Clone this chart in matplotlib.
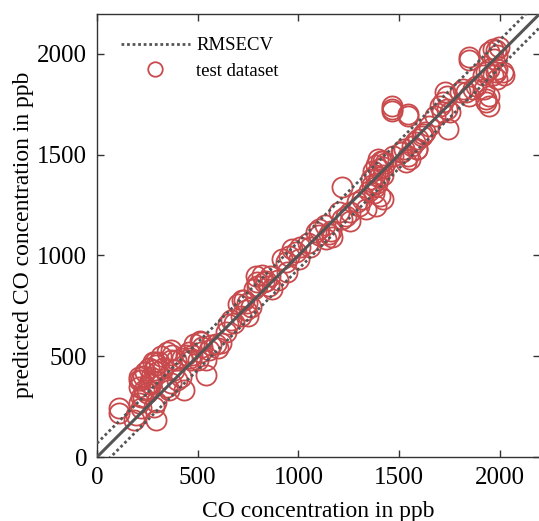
import matplotlib as mpl
import matplotlib.pyplot as plt
import numpy as np

mpl.rcParams["font.family"] = "serif"
mpl.rcParams["font.serif"] = ["Liberation Serif", "DejaVu Serif"]

# reference vs predicted CO concentration (ppb), test dataset
co_ref = [
    109, 109, 184, 194, 294, 209, 219, 219, 209, 219, 209, 234, 249, 259, 284, 294,
    269, 284, 294, 308, 348, 368, 368, 373, 368, 433, 398, 418, 423, 443, 468, 473,
    458, 517, 522, 517, 542, 557, 567, 510, 617, 667, 682, 716, 731, 746, 741, 766,
    796, 831, 230, 250, 270, 300, 330, 360, 240, 280, 380, 460, 500, 590, 640, 700,
    781, 796, 791, 821, 841, 856, 871, 920, 940, 955, 970, 990, 1005, 945, 900, 1010,
    1050, 1090, 1104, 1139, 1154, 1169, 1164, 1204, 1219, 1239, 1254, 1254, 1219,
    1289, 1303, 1318, 1338, 1388, 1403, 1360, 1370, 1380, 1385, 1390, 1400, 1410,
    1400, 1420, 1380, 1420, 1395, 1350, 1365, 1430, 1375, 1418, 1468, 1517, 1552,
    1587, 1463, 1463, 1463, 1542, 1542, 1741, 1418, 1512, 1527, 1542, 1562, 1577,
    1592, 1612, 1627, 1587, 1537, 1701, 1716, 1736, 1711, 1736, 1751, 1726, 1801,
    1816, 1831, 1846, 1866, 1881, 1846, 1846, 1915, 1930, 1945, 1965, 1980, 1985,
    1920, 1945, 1930, 1930, 1945, 1985, 1945, 1965, 1980, 1995, 1985, 1970, 2015,
    2020, 1650, 1680, 1620, 1100, 1130, 1060, 860, 750, 720, 650, 600, 540, 480,
    210, 230, 260, 290, 320, 350, 390,
]
co_pred = [
    244, 219, 184, 209, 184, 269, 244, 299, 398, 383, 348, 333, 318, 368, 249, 274,
    398, 433, 458, 473, 348, 368, 483, 507, 532, 333, 383, 398, 493, 507, 483, 507,
    522, 522, 547, 572, 408, 532, 557, 575, 567, 682, 667, 697, 781, 766, 731, 746,
    846, 866, 300, 330, 360, 420, 440, 330, 420, 470, 430, 490, 480, 560, 620, 760,
    831, 866, 896, 905, 871, 846, 831, 980, 965, 995, 1030, 1015, 980, 920, 880, 1040,
    1060, 1114, 1129, 1080, 1104, 1090, 1119, 1214, 1179, 1194, 1214, 1169, 1338,
    1264, 1244, 1279, 1229, 1244, 1294, 1380, 1420, 1400, 1450, 1360, 1430, 1470,
    1390, 1440, 1340, 1400, 1480, 1320, 1350, 1460, 1310, 1279, 1493, 1512, 1478,
    1527, 1741, 1726, 1716, 1691, 1701, 1627, 1468, 1512, 1527, 1493, 1542, 1562,
    1577, 1592, 1612, 1527, 1463, 1741, 1761, 1791, 1711, 1726, 1711, 1811, 1811,
    1826, 1811, 1791, 1826, 1841, 1985, 1970, 1895, 1910, 1925, 1895, 1910, 1925,
    1826, 1791, 1776, 1761, 1741, 1875, 2010, 2025, 2020, 2035, 1995, 1975, 1910,
    1895, 1640, 1690, 1600, 1100, 1150, 1040, 900, 700, 780, 660, 540, 480, 560,
    380, 400, 440, 470, 500, 520, 480,
]
rmsecv = 68
axis_max = 2200

line_grey = "#555555"
marker_red = "#c94a4c"

fig = plt.figure(figsize=(5.39, 5.21), dpi=100)
ax = fig.add_axes([97 / 539, 64 / 521, 443 / 539, 443.5 / 521])

diag = np.array([0, axis_max])
ax.plot(diag, diag, "-", color=line_grey, linewidth=2.2, zorder=3)
ax.plot(diag, diag + rmsecv, linestyle=(0, (1, 1)), color=line_grey,
        linewidth=2.0, zorder=3, label="RMSECV")
ax.plot(diag, diag - rmsecv, linestyle=(0, (1, 1)), color=line_grey,
        linewidth=2.0, zorder=3)
ax.plot(co_ref, co_pred, "o", markersize=14.5, markerfacecolor="none",
        markeredgecolor=marker_red, markeredgewidth=1.3, zorder=2,
        label="test dataset")

ax.set_xlim(0, axis_max)
ax.set_ylim(0, axis_max)
ax.set_xticks([0, 500, 1000, 1500, 2000])
ax.set_yticks([0, 500, 1000, 1500, 2000])
ax.tick_params(direction="in", top=True, right=True, length=5, width=1,
               labelsize=18, color="#333333", pad=7)
for sp in ax.spines.values():
    sp.set_color("#333333")
    sp.set_linewidth(1.0)
ax.set_xlabel("CO concentration in ppb", fontsize=17, labelpad=9)
ax.set_ylabel("predicted CO concentration in ppb", fontsize=17, labelpad=2)

ax.legend(loc="upper left", bbox_to_anchor=(0.015, 0.985), frameon=False,
          fontsize=13.5, handlelength=3.7, markerscale=0.72, labelspacing=0.45,
          handletextpad=0.35)

fig.savefig("out.png", dpi=100)
